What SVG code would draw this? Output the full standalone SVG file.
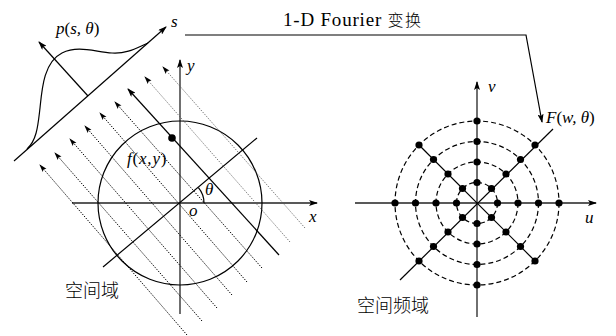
<svg xmlns="http://www.w3.org/2000/svg" width="616" height="336" viewBox="0 0 616 336">
<style>
.ln{stroke:#000;stroke-width:1.2;fill:none}
.ax{stroke:#222;stroke-width:1.3;fill:none}
.dk{stroke:#000;stroke-width:1;stroke-dasharray:1.3,1.3;fill:none}
.lt{stroke:#555;stroke-width:0.8;stroke-dasharray:1.3,1.3;fill:none}
.dash{stroke:#000;stroke-width:1.2;stroke-dasharray:5,3;fill:none}
.m{font-family:"Liberation Serif","DejaVu Serif",serif;font-style:italic;font-size:17px;fill:#000}
.t{font-family:"Liberation Serif","DejaVu Serif",serif;font-size:19px;fill:#000}
.up{font-style:normal}
.cjk{font-family:"Noto Sans CJK SC","Noto Sans",sans-serif;font-size:18px;fill:#000;font-weight:300}
</style>
<defs>
<marker id="ah" markerUnits="userSpaceOnUse" markerWidth="9" markerHeight="6" refX="8" refY="3" orient="auto">
<path d="M0,0 L9,3 L0,6 L2,3 z" fill="#000"/>
</marker>
<marker id="ahs" markerUnits="userSpaceOnUse" markerWidth="8" markerHeight="6" refX="7" refY="3" orient="auto">
<path d="M0,0.5 L8,3 L0,5.5 L1.5,3 z" fill="#000"/>
</marker>
</defs>
<rect width="616" height="336" fill="#fff"/>

<g id="spatial-domain">
<line class="ax" x1="72" y1="203" x2="317" y2="203" marker-end="url(#ah)"/>
<line class="ax" x1="180" y1="314" x2="180" y2="60" marker-end="url(#ah)"/>
<circle class="ln" cx="180" cy="203" r="82" stroke-width="1.4"/>
<line class="ln" x1="103" y1="267" x2="257" y2="138" stroke-width="1.4"/>
<path class="ln" d="M204,203 A24,24 0 0 0 198.4,187.6"/>
<g id="rays">
<line class="lt" x1="305" y1="228" x2="163" y2="67" marker-end="url(#ahs)"/>
<line class="lt" x1="290" y1="242" x2="145" y2="77" marker-end="url(#ahs)"/>
<line class="ln" x1="279" y1="255" x2="128" y2="89" stroke-width="1.5" marker-end="url(#ah)"/>
<line class="dk" x1="262" y1="268" x2="115" y2="102" marker-end="url(#ahs)"/>
<line class="dk" x1="247" y1="282" x2="100" y2="113" marker-end="url(#ahs)"/>
<line class="dk" x1="232" y1="295" x2="85" y2="126" marker-end="url(#ahs)"/>
<line class="dk" x1="217" y1="308" x2="70" y2="139" marker-end="url(#ahs)"/>
<line class="dk" x1="202" y1="321" x2="55" y2="153" marker-end="url(#ahs)"/>
<line class="dk" x1="187" y1="335" x2="40" y2="165" marker-end="url(#ahs)"/>
</g>
<circle cx="172" cy="138" r="3.8" fill="#000"/>
<text class="m" x="127" y="164" font-size="18" letter-spacing="0.8">f<tspan class="up">(</tspan>x,y<tspan class="up">)</tspan></text>
<text class="m" x="205" y="195">θ</text>
<text class="m" x="189" y="216">o</text>
<text class="m" x="309" y="222">x</text>
<text class="m" x="187" y="71">y</text>
<text class="cjk" x="65" y="297">空间域</text>
</g>

<g id="projection">
<line class="ln" x1="14" y1="161" x2="166" y2="27" marker-end="url(#ah)"/>
<line class="ln" x1="88" y1="96" x2="39" y2="42" marker-end="url(#ah)"/>
<path class="ln" d="M27,149 C37,140 38,125 40,108 C42,88 44,62 62,53 C78,45 95,52 112,53 C128,54 138,47 148,43"/>
<text class="m" x="56" y="34">p<tspan class="up">(</tspan>s, θ<tspan class="up">)</tspan></text>
<text class="m" x="171" y="27">s</text>
</g>

<g id="frequency-domain">
<line class="ax" x1="355" y1="203" x2="596" y2="203" marker-end="url(#ah)"/>
<line class="ax" x1="477" y1="317" x2="477" y2="82" marker-end="url(#ah)"/>
<line class="ln" x1="400" y1="280" x2="553" y2="129"/>
<line class="ln" x1="419" y1="145" x2="535" y2="261"/>
<circle class="dash" cx="477" cy="203" r="20.5"/>
<circle class="dash" cx="477" cy="203" r="41"/>
<circle class="dash" cx="477" cy="203" r="61.5"/>
<circle class="dash" cx="477" cy="203" r="82"/>
<g fill="#000">
<circle cx="456.5" cy="203" r="3.6"/><circle cx="436" cy="203" r="3.6"/><circle cx="415.5" cy="203" r="3.6"/><circle cx="395" cy="203" r="3.6"/>
<circle cx="497.5" cy="203" r="3.6"/><circle cx="518" cy="203" r="3.6"/><circle cx="538.5" cy="203" r="3.6"/><circle cx="559" cy="203" r="3.6"/>
<circle cx="477" cy="182.5" r="3.6"/><circle cx="477" cy="162" r="3.6"/><circle cx="477" cy="141.5" r="3.6"/><circle cx="477" cy="121" r="3.6"/>
<circle cx="477" cy="223.5" r="3.6"/><circle cx="477" cy="244" r="3.6"/><circle cx="477" cy="264.5" r="3.6"/><circle cx="477" cy="285" r="3.6"/>
<circle cx="491.5" cy="188.5" r="3.6"/><circle cx="506" cy="174" r="3.6"/><circle cx="520.5" cy="159.5" r="3.6"/><circle cx="535" cy="145" r="3.6"/>
<circle cx="462.5" cy="217.5" r="3.6"/><circle cx="448" cy="232" r="3.6"/><circle cx="433.5" cy="246.5" r="3.6"/><circle cx="419" cy="261" r="3.6"/>
<circle cx="462.5" cy="188.5" r="3.6"/><circle cx="448" cy="174" r="3.6"/><circle cx="433.5" cy="159.5" r="3.6"/><circle cx="419" cy="145" r="3.6"/>
<circle cx="491.5" cy="217.5" r="3.6"/><circle cx="506" cy="232" r="3.6"/><circle cx="520.5" cy="246.5" r="3.6"/><circle cx="535" cy="261" r="3.6"/>
</g>
<text class="m" x="488" y="92">v</text>
<text class="m" x="585" y="223">u</text>
<text class="m" x="546" y="123">F<tspan class="up">(</tspan>w, θ<tspan class="up">)</tspan></text>
<text class="cjk" x="357" y="312">空间频域</text>
</g>

<g id="connectors">
<path class="ln" d="M185,35 L526,35 L542,122" marker-end="url(#ah)"/>
<text class="t" x="283" y="26" letter-spacing="0.8">1-D Fourier <tspan font-family="'Noto Sans CJK SC',sans-serif" font-size="16" font-weight="300" letter-spacing="1.5">变换</tspan></text>
</g>
</svg>
